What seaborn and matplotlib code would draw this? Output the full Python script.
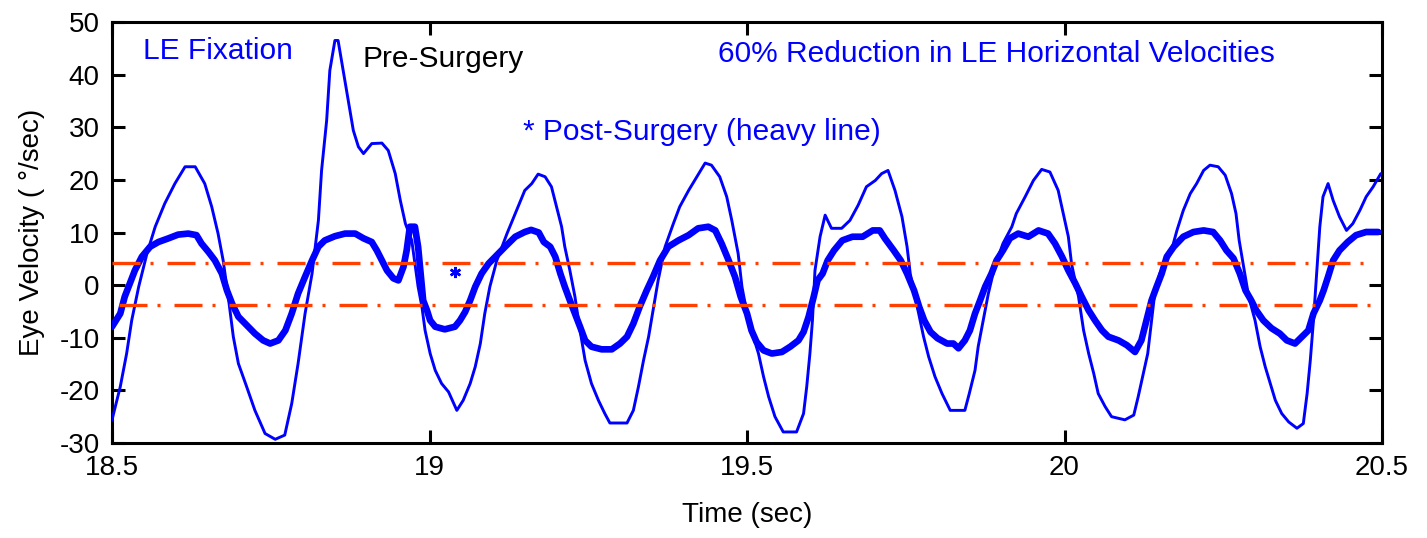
import matplotlib
matplotlib.use("Agg")
import matplotlib.pyplot as plt
import pandas as pd
import seaborn as sns

# Pre-surgery eye velocity (thin line)
pre_time = [18.500, 18.513, 18.523, 18.531, 18.542, 18.555, 18.568, 18.583, 18.599, 18.615,
            18.631, 18.646, 18.657, 18.667, 18.675, 18.683, 18.691, 18.699, 18.712, 18.725,
            18.741, 18.757, 18.772, 18.783, 18.793, 18.804, 18.815, 18.825, 18.830, 18.838,
            18.843, 18.851, 18.856, 18.864, 18.872, 18.880, 18.888, 18.896, 18.909, 18.925,
            18.935, 18.946, 18.954, 18.962, 18.972, 18.977, 18.982, 18.988, 18.993, 19.001,
            19.009, 19.019, 19.030, 19.043, 19.053, 19.064, 19.072, 19.080, 19.087, 19.095,
            19.106, 19.122, 19.135, 19.150, 19.161, 19.171, 19.182, 19.192, 19.200, 19.208,
            19.213, 19.221, 19.229, 19.237, 19.245, 19.255, 19.266, 19.276, 19.284, 19.311,
            19.321, 19.329, 19.337, 19.345, 19.353, 19.360, 19.371, 19.384, 19.394, 19.408,
            19.421, 19.434, 19.444, 19.457, 19.468, 19.476, 19.486, 19.492, 19.502, 19.518,
            19.526, 19.534, 19.544, 19.557, 19.578, 19.589, 19.594, 19.599, 19.603, 19.607,
            19.615, 19.623, 19.633, 19.649, 19.662, 19.675, 19.688, 19.702, 19.712, 19.722,
            19.733, 19.744, 19.752, 19.757, 19.767, 19.778, 19.786, 19.796, 19.807, 19.820,
            19.843, 19.850, 19.859, 19.864, 19.872, 19.880, 19.890, 19.903, 19.917, 19.924,
            19.938, 19.951, 19.964, 19.977, 19.990, 19.998, 20.006, 20.011, 20.022, 20.030,
            20.038, 20.046, 20.053, 20.064, 20.074, 20.095, 20.109, 20.116, 20.124, 20.131,
            20.137, 20.142, 20.150, 20.167, 20.177, 20.187, 20.198, 20.208, 20.219, 20.229,
            20.242, 20.253, 20.263, 20.270, 20.275, 20.282, 20.290, 20.300, 20.308, 20.316,
            20.324, 20.332, 20.342, 20.353, 20.366, 20.376, 20.382, 20.387, 20.392, 20.397,
            20.402, 20.407, 20.415, 20.423, 20.433, 20.444, 20.454, 20.465, 20.475, 20.486,
            20.498]
pre_velocity = [-25.6, -19.3, -13.0, -6.7, -0.3, 6.0, 11.1, 15.5, 19.3, 22.5,
                22.5, 19.3, 14.9, 9.8, 4.7, -2.2, -9.8, -14.9, -19.3, -23.8,
                -28.2, -29.3, -28.5, -22.5, -14.9, -5.4, 2.2, 12.3, 21.8, 31.3,
                40.8, 46.5, 46.5, 40.8, 35.1, 29.4, 26.3, 25.0, 26.9, 27.0,
                25.6, 21.2, 16.1, 11.7, 8.5, 4.1, -0.3, -4.1, -8.6, -13.0,
                -16.2, -18.7, -20.3, -23.8, -21.9, -18.7, -15.5, -11.1, -5.4, -0.3,
                4.7, 9.8, 13.6, 18.0, 19.3, 21.1, 20.6, 18.7, 14.9, 11.1,
                7.3, 2.8, -2.2, -8.6, -14.3, -18.7, -21.9, -24.4, -26.2, -26.2,
                -23.8, -19.3, -14.3, -9.8, -4.1, 0.9, 7.3, 11.7, 14.9, 18.0,
                20.6, 23.2, 22.8, 20.6, 16.8, 12.3, 6.0, -0.3, -6.7, -13.0,
                -17.4, -21.2, -25.0, -27.9, -27.9, -24.4, -19.3, -13.0, -6.7, 2.8,
                9.2, 13.3, 10.8, 10.8, 12.3, 15.2, 18.7, 19.9, 21.2, 21.8,
                18.0, 13.0, 7.3, 2.2, -3.5, -9.8, -13.6, -17.4, -20.6, -23.8,
                -23.8, -20.6, -16.2, -11.7, -6.7, -1.6, 3.5, 7.9, 11.1, 13.6,
                16.8, 19.9, 22.0, 21.5, 18.0, 13.6, 9.2, 4.1, -2.2, -8.6,
                -13.0, -16.8, -20.6, -23.1, -25.0, -25.6, -24.7, -21.2, -16.8, -13.0,
                -6.7, -1.6, 2.2, 6.0, 10.4, 14.2, 17.4, 19.3, 21.8, 22.8,
                22.5, 20.9, 17.4, 13.6, 8.5, 3.5, -2.2, -6.7, -11.7, -15.5,
                -18.7, -21.9, -24.4, -26.0, -27.2, -26.3, -20.6, -14.3, -6.7, 2.2,
                11.1, 16.8, 19.3, 16.1, 13.0, 10.4, 11.7, 14.2, 16.8, 18.7,
                21.2]

# Post-surgery eye velocity (heavy line)
post_time = [18.500, 18.513, 18.520, 18.528, 18.536, 18.547, 18.560, 18.573, 18.589, 18.604,
             18.620, 18.633, 18.641, 18.652, 18.662, 18.673, 18.681, 18.689, 18.699, 18.712,
             18.725, 18.738, 18.749, 18.762, 18.773, 18.783, 18.793, 18.804, 18.815, 18.825,
             18.835, 18.851, 18.867, 18.883, 18.896, 18.909, 18.917, 18.925, 18.933, 18.943,
             18.951, 18.959, 18.964, 18.969, 18.977, 18.982, 18.987, 18.990, 18.996, 19.001,
             19.009, 19.024, 19.040, 19.048, 19.056, 19.064, 19.072, 19.082, 19.093, 19.106,
             19.119, 19.135, 19.150, 19.160, 19.172, 19.180, 19.190, 19.198, 19.206, 19.213,
             19.221, 19.229, 19.237, 19.245, 19.255, 19.271, 19.287, 19.300, 19.311, 19.321,
             19.331, 19.342, 19.352, 19.363, 19.376, 19.392, 19.408, 19.423, 19.439, 19.450,
             19.460, 19.471, 19.481, 19.490, 19.500, 19.507, 19.515, 19.526, 19.539, 19.555,
             19.568, 19.581, 19.589, 19.597, 19.605, 19.611, 19.619, 19.627, 19.637, 19.650,
             19.666, 19.682, 19.698, 19.709, 19.717, 19.731, 19.742, 19.752, 19.763, 19.771,
             19.779, 19.789, 19.800, 19.815, 19.825, 19.833, 19.843, 19.851, 19.859, 19.867,
             19.875, 19.885, 19.893, 19.903, 19.914, 19.927, 19.943, 19.959, 19.974, 19.985,
             19.996, 20.006, 20.017, 20.027, 20.038, 20.048, 20.059, 20.069, 20.085, 20.098,
             20.111, 20.121, 20.129, 20.137, 20.145, 20.153, 20.161, 20.172, 20.187, 20.203,
             20.219, 20.234, 20.245, 20.255, 20.266, 20.276, 20.285, 20.294, 20.302, 20.313,
             20.326, 20.339, 20.350, 20.363, 20.374, 20.384, 20.392, 20.402, 20.408, 20.415,
             20.423, 20.433, 20.446, 20.459, 20.475, 20.494]
post_velocity = [-7.9, -5.4, -2.2, 0.3, 2.8, 5.4, 7.3, 8.2, 8.9, 9.6,
                 9.8, 9.5, 7.9, 6.3, 4.7, 2.2, -1.0, -3.5, -6.0, -7.6,
                 -9.2, -10.5, -11.1, -10.5, -8.6, -5.4, -1.6, 1.6, 4.7, 7.3,
                 8.5, 9.3, 9.8, 9.8, 8.9, 8.2, 6.6, 4.7, 2.8, 1.3,
                 0.9, 3.5, 6.6, 11.1, 11.1, 7.3, 0.9, -2.9, -4.8, -6.7,
                 -7.9, -8.4, -7.9, -6.7, -5.1, -2.9, -0.3, 2.2, 4.1, 5.7,
                 7.3, 9.2, 10.1, 10.5, 10.0, 8.2, 7.3, 5.4, 2.2, -0.3,
                 -2.9, -5.4, -7.9, -10.5, -11.7, -12.2, -12.2, -11.1, -9.8, -7.3,
                 -4.1, -1.0, 1.6, 4.7, 7.3, 8.5, 9.5, 10.8, 11.1, 10.4,
                 7.9, 4.7, 1.6, -2.2, -5.4, -8.6, -10.8, -12.4, -13.0, -12.7,
                 -11.7, -10.5, -8.9, -6.0, -2.2, 0.9, 2.2, 4.7, 6.6, 8.5,
                 9.2, 9.2, 10.4, 10.4, 8.9, 6.6, 4.7, 2.2, -1.0, -4.1,
                 -6.7, -8.9, -10.1, -11.1, -11.1, -12.0, -10.5, -8.6, -5.4, -2.9,
                 -0.3, 2.2, 4.7, 6.6, 8.9, 9.8, 9.2, 10.4, 9.8, 7.9,
                 5.4, 2.8, 0.3, -2.2, -4.8, -6.7, -8.6, -9.8, -10.5, -11.4,
                 -12.7, -10.5, -6.7, -2.9, -0.3, 2.2, 5.4, 7.3, 9.2, 10.1,
                 10.4, 10.1, 8.5, 6.6, 5.1, 2.2, -1.0, -2.9, -4.8, -6.7,
                 -8.2, -9.2, -10.5, -11.1, -9.8, -8.6, -5.4, -2.9, -1.0, 1.6,
                 4.7, 6.6, 8.2, 9.5, 10.1, 10.1]

threshold_levels = [4.2, -3.8]
marker_time = [19.04]
marker_velocity = [2.5]

x_ticks = [18.5, 19, 19.5, 20, 20.5]
x_tick_labels = ["18.5", "19", "19.5", "20", "20.5"]
y_ticks = [-30, -20, -10, 0, 10, 20, 30, 40, 50]

BLUE = "#0000ff"
RED = "#ff4000"

sns.set_style("ticks")
plt.rcParams['font.family'] = ['Liberation Sans', 'DejaVu Sans']
plt.rcParams['axes.unicode_minus'] = False

pre = pd.DataFrame({'t': pre_time, 'v': pre_velocity})
post = pd.DataFrame({'t': post_time, 'v': post_velocity})

fig, ax = plt.subplots(figsize=(14.27, 5.38), dpi=100)
fig.subplots_adjust(left=0.0785, right=0.9685, top=0.959, bottom=0.1766)

sns.lineplot(data=pre, x='t', y='v', ax=ax, color=BLUE, linewidth=2.1,
             estimator=None, sort=False, zorder=3)
sns.lineplot(data=post, x='t', y='v', ax=ax, color=BLUE, linewidth=4.8,
             estimator=None, sort=False, zorder=4)
ax.plot(marker_time, marker_velocity, linestyle='none', marker=(6, 2, 0),
        markersize=8, markeredgewidth=1.8, color=BLUE, zorder=5)

# dash-dot threshold lines
ax.axhline(threshold_levels[0], xmin=0.0, xmax=0.996, color=RED, linewidth=2.4,
           linestyle=(0, (8.4, 3.0, 0.9, 4.2)), dash_capstyle='butt', zorder=6)
ax.axhline(threshold_levels[1], xmin=0.0055, xmax=0.991, color=RED, linewidth=2.4,
           linestyle=(0, (8.4, 3.0, 0.9, 4.2)), dash_capstyle='butt', zorder=6)

ax.set_xlim(18.5, 20.5)
ax.set_ylim(-30, 50)
ax.set_xticks(x_ticks)
ax.set_xticklabels(x_tick_labels)
ax.set_yticks(y_ticks)

ax.tick_params(direction='in', top=True, right=True, length=9.5, width=2.2,
               labelsize=20, colors='black', pad=9)
for s in ax.spines.values():
    s.set_visible(True)
    s.set_linewidth(2.2)
    s.set_color('black')

ax.set_xlabel('Time (sec)', fontsize=20, labelpad=15, color='black')
ax.set_ylabel('Eye Velocity ( °/sec)', fontsize=20, labelpad=10, color='black')

ax.text(0.0244, 0.912, 'LE Fixation', transform=ax.transAxes, color=BLUE,
        fontsize=21.5, va='baseline', ha='left')
ax.text(0.197, 0.893, 'Pre-Surgery', transform=ax.transAxes, color='black',
        fontsize=21.5, va='baseline', ha='left')
ax.text(0.477, 0.905, '60% Reduction in LE Horizontal Velocities', transform=ax.transAxes,
        color=BLUE, fontsize=21.5, va='baseline', ha='left')
ax.text(0.3236, 0.7197, '* Post-Surgery (heavy line)', transform=ax.transAxes, color=BLUE,
        fontsize=21.5, va='baseline', ha='left')

plt.savefig('out.png', dpi=100)
